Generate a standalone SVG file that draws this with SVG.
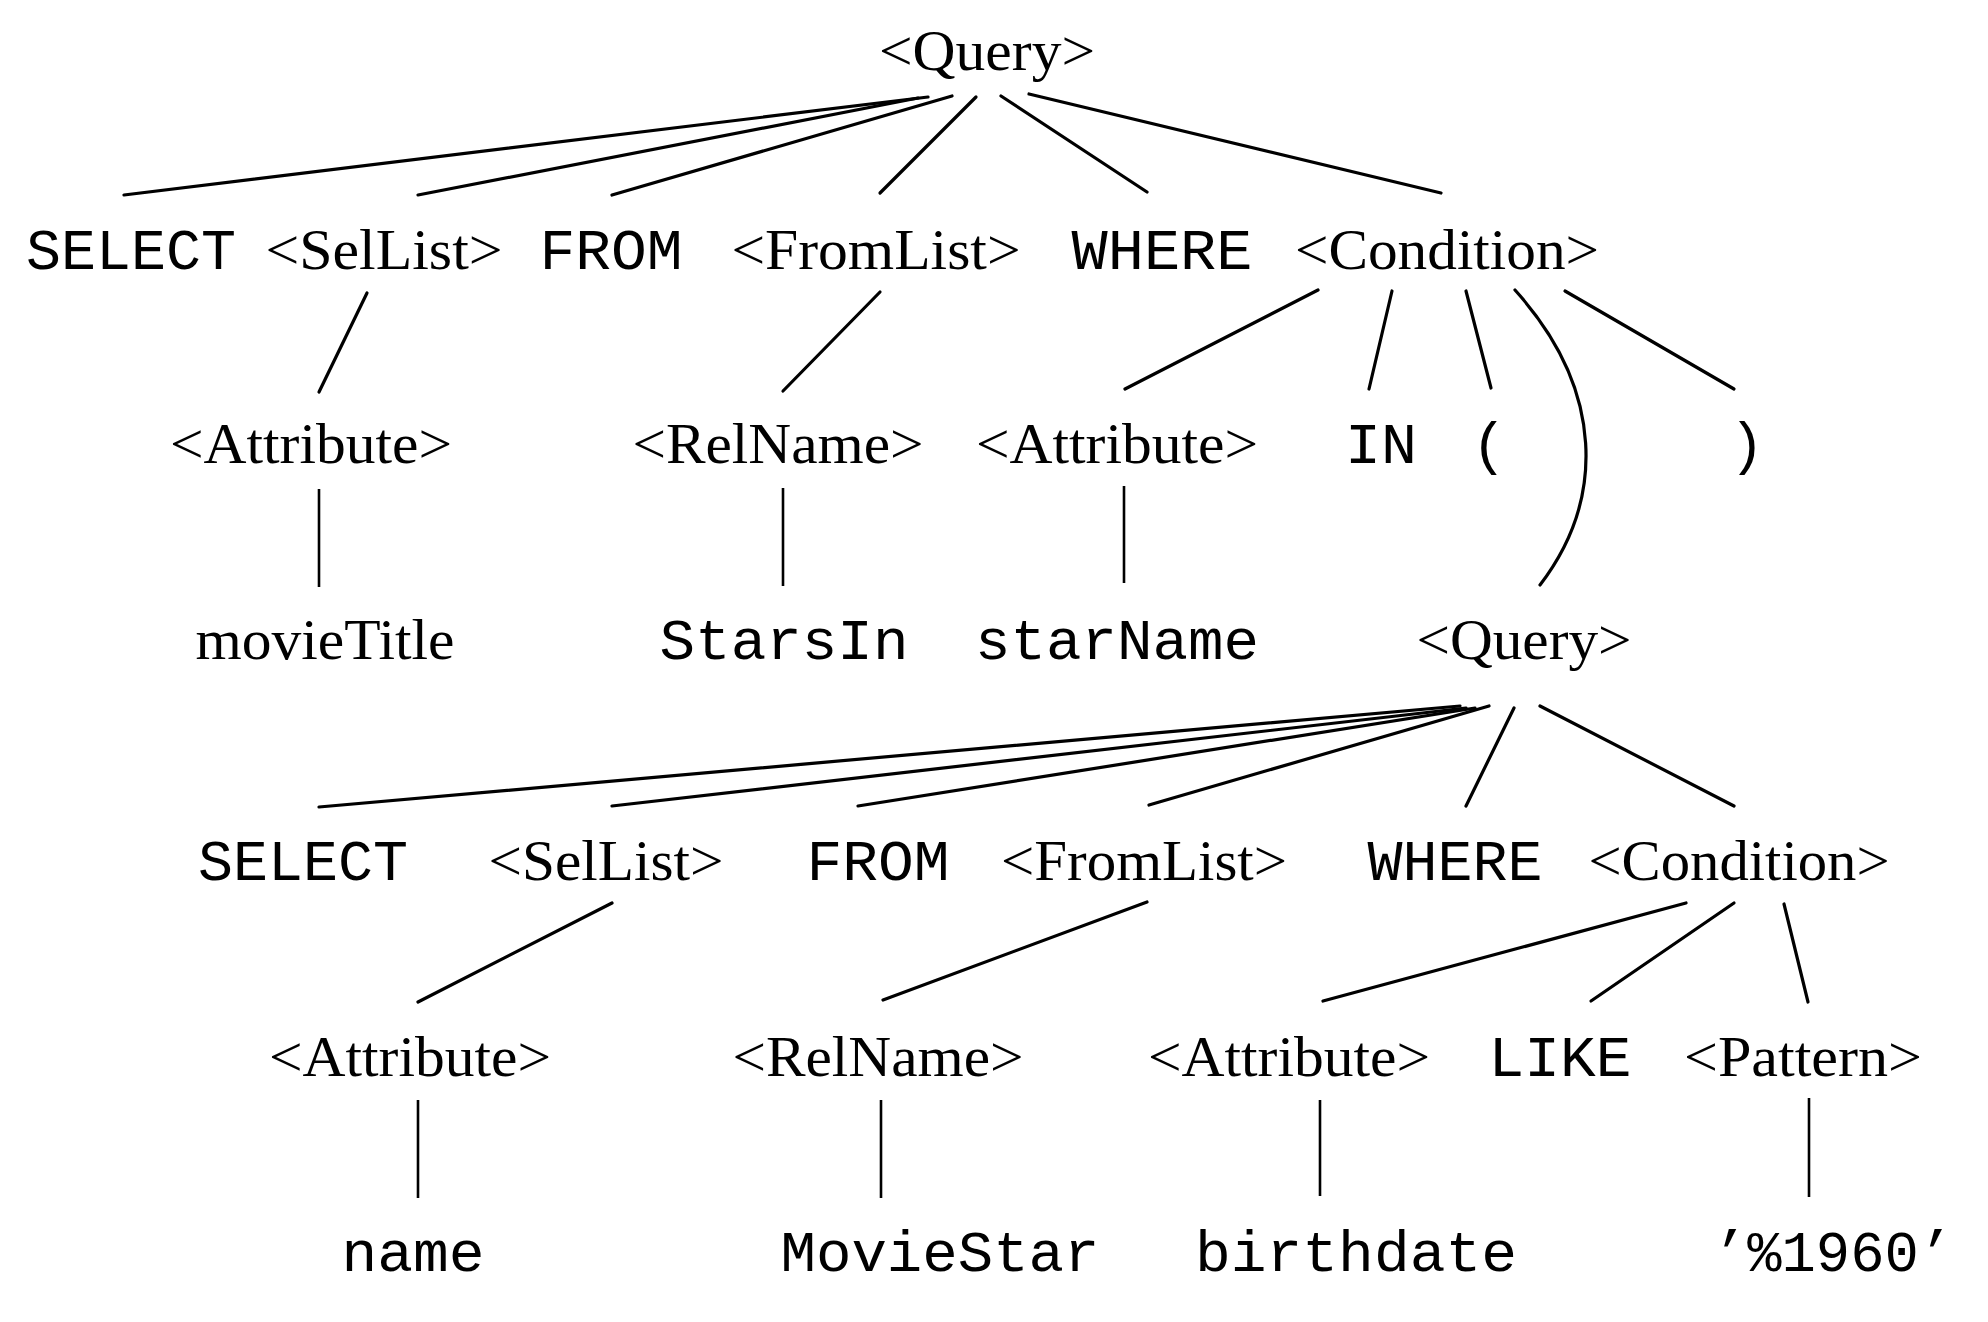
<svg xmlns="http://www.w3.org/2000/svg" width="1988" height="1322" viewBox="0 0 1988 1322">
  <style>
    .nt { font-family: "Liberation Serif", "Times New Roman", serif; font-size: 58px; fill: #000; text-anchor: middle; }
    .kw { font-family: "Liberation Mono", "Courier New", monospace; font-size: 58px; fill: #000; text-anchor: middle; }
    .edge { stroke: #000; stroke-width: 3.2; fill: none; stroke-linecap: round; }
    .stem { stroke: #000; stroke-width: 2.6; fill: none; }
  </style>
  <rect width="1988" height="1322" fill="#fff"/>

  <!-- parse tree edges -->
  <g id="connectors">
    <!-- outer query -->
    <line class="edge" x1="928" y1="97" x2="124" y2="195"/>
    <line class="edge" x1="918" y1="98" x2="418" y2="195"/>
    <line class="edge" x1="952" y1="96" x2="612" y2="195"/>
    <line class="edge" x1="976" y1="97" x2="880" y2="193"/>
    <line class="edge" x1="1001" y1="96" x2="1147" y2="192"/>
    <line class="edge" x1="1029" y1="94" x2="1441" y2="193"/>
    <line class="edge" x1="367" y1="293" x2="319" y2="392"/>
    <line class="edge" x1="880" y1="292" x2="783" y2="391"/>
    <line class="edge" x1="1318" y1="290" x2="1125" y2="389"/>
    <line class="edge" x1="1392" y1="291" x2="1369" y2="389"/>
    <line class="edge" x1="1466" y1="291" x2="1491" y2="388"/>
    <path class="edge" d="M1515,290 C1605,390 1605,500 1540,585"/>
    <line class="edge" x1="1565" y1="291" x2="1734" y2="389"/>
    <line class="stem" x1="319" y1="489" x2="319" y2="587"/>
    <line class="stem" x1="783" y1="488" x2="783" y2="586"/>
    <line class="stem" x1="1124" y1="486" x2="1124" y2="583"/>
    <!-- nested query -->
    <line class="edge" x1="1460" y1="706" x2="319" y2="807"/>
    <line class="edge" x1="1466" y1="708" x2="612" y2="806"/>
    <line class="edge" x1="1475" y1="708" x2="858" y2="806"/>
    <line class="edge" x1="1489" y1="706" x2="1149" y2="805"/>
    <line class="edge" x1="1514" y1="708" x2="1466" y2="806"/>
    <line class="edge" x1="1540" y1="706" x2="1734" y2="806"/>
    <line class="edge" x1="612" y1="903" x2="418" y2="1002"/>
    <line class="edge" x1="1147" y1="902" x2="883" y2="1000"/>
    <line class="edge" x1="1686" y1="903" x2="1323" y2="1001"/>
    <line class="edge" x1="1734" y1="903" x2="1591" y2="1001"/>
    <line class="edge" x1="1784" y1="904" x2="1808" y2="1002"/>
    <line class="stem" x1="418" y1="1100" x2="418" y2="1198"/>
    <line class="stem" x1="881" y1="1100" x2="881" y2="1198"/>
    <line class="stem" x1="1320" y1="1100" x2="1320" y2="1196"/>
    <line class="stem" x1="1809" y1="1098" x2="1809" y2="1197"/>
  </g>

  <!-- level 0 -->
  <g id="n-query"><text class="nt" x="987" y="70" textLength="216" lengthAdjust="spacingAndGlyphs">&lt;Query&gt;</text></g>

  <!-- level 1 -->
  <g id="n-select"><text class="kw" x="131" y="269" textLength="210" lengthAdjust="spacingAndGlyphs">SELECT</text></g>
  <g id="n-sellist"><text class="nt" x="384" y="269" textLength="237" lengthAdjust="spacingAndGlyphs">&lt;SelList&gt;</text></g>
  <g id="n-from"><text class="kw" x="611" y="269" textLength="143" lengthAdjust="spacingAndGlyphs">FROM</text></g>
  <g id="n-fromlist"><text class="nt" x="876" y="269" textLength="289" lengthAdjust="spacingAndGlyphs">&lt;FromList&gt;</text></g>
  <g id="n-where"><text class="kw" x="1162" y="269" textLength="181" lengthAdjust="spacingAndGlyphs">WHERE</text></g>
  <g id="n-condition"><text class="nt" x="1447" y="269" textLength="304" lengthAdjust="spacingAndGlyphs">&lt;Condition&gt;</text></g>

  <!-- level 2 -->
  <g id="n-attr1"><text class="nt" x="311" y="463" textLength="282" lengthAdjust="spacingAndGlyphs">&lt;Attribute&gt;</text></g>
  <g id="n-relname1"><text class="nt" x="778" y="463" textLength="291" lengthAdjust="spacingAndGlyphs">&lt;RelName&gt;</text></g>
  <g id="n-attr2"><text class="nt" x="1117" y="463" textLength="282" lengthAdjust="spacingAndGlyphs">&lt;Attribute&gt;</text></g>
  <g id="n-in"><text class="kw" x="1381" y="463" textLength="72" lengthAdjust="spacingAndGlyphs">IN</text></g>
  <g id="n-lparen"><text class="kw" x="1489" y="463">(</text></g>
  <g id="n-rparen"><text class="kw" x="1747" y="463">)</text></g>

  <!-- level 3 -->
  <g id="n-movietitle"><text class="nt" x="325" y="659" textLength="259" lengthAdjust="spacingAndGlyphs">movieTitle</text></g>
  <g id="n-starsin"><text class="kw" x="784" y="659" textLength="249" lengthAdjust="spacingAndGlyphs">StarsIn</text></g>
  <g id="n-starname"><text class="kw" x="1117" y="659" textLength="284" lengthAdjust="spacingAndGlyphs">starName</text></g>
  <g id="n-subquery"><text class="nt" x="1524" y="659" textLength="215" lengthAdjust="spacingAndGlyphs">&lt;Query&gt;</text></g>

  <!-- level 4 -->
  <g id="n-select2"><text class="kw" x="303" y="880" textLength="210" lengthAdjust="spacingAndGlyphs">SELECT</text></g>
  <g id="n-sellist2"><text class="nt" x="606" y="880" textLength="235" lengthAdjust="spacingAndGlyphs">&lt;SelList&gt;</text></g>
  <g id="n-from2"><text class="kw" x="878" y="880" textLength="143" lengthAdjust="spacingAndGlyphs">FROM</text></g>
  <g id="n-fromlist2"><text class="nt" x="1144" y="880" textLength="286" lengthAdjust="spacingAndGlyphs">&lt;FromList&gt;</text></g>
  <g id="n-where2"><text class="kw" x="1455" y="880" textLength="175" lengthAdjust="spacingAndGlyphs">WHERE</text></g>
  <g id="n-condition2"><text class="nt" x="1739" y="880" textLength="301" lengthAdjust="spacingAndGlyphs">&lt;Condition&gt;</text></g>

  <!-- level 5 -->
  <g id="n-attr3"><text class="nt" x="410" y="1076" textLength="282" lengthAdjust="spacingAndGlyphs">&lt;Attribute&gt;</text></g>
  <g id="n-relname2"><text class="nt" x="878" y="1076" textLength="291" lengthAdjust="spacingAndGlyphs">&lt;RelName&gt;</text></g>
  <g id="n-attr4"><text class="nt" x="1289" y="1076" textLength="282" lengthAdjust="spacingAndGlyphs">&lt;Attribute&gt;</text></g>
  <g id="n-like"><text class="kw" x="1560" y="1076" textLength="143" lengthAdjust="spacingAndGlyphs">LIKE</text></g>
  <g id="n-pattern"><text class="nt" x="1803" y="1076" textLength="238" lengthAdjust="spacingAndGlyphs">&lt;Pattern&gt;</text></g>

  <!-- level 6 -->
  <g id="n-name"><text class="kw" x="413" y="1271" textLength="143" lengthAdjust="spacingAndGlyphs">name</text></g>
  <g id="n-moviestar"><text class="kw" x="940" y="1271" textLength="319" lengthAdjust="spacingAndGlyphs">MovieStar</text></g>
  <g id="n-birthdate"><text class="kw" x="1356" y="1271" textLength="322" lengthAdjust="spacingAndGlyphs">birthdate</text></g>
  <g id="n-literal"><text class="kw" x="1833" y="1271" textLength="240" lengthAdjust="spacingAndGlyphs">’%1960’</text></g>
</svg>
